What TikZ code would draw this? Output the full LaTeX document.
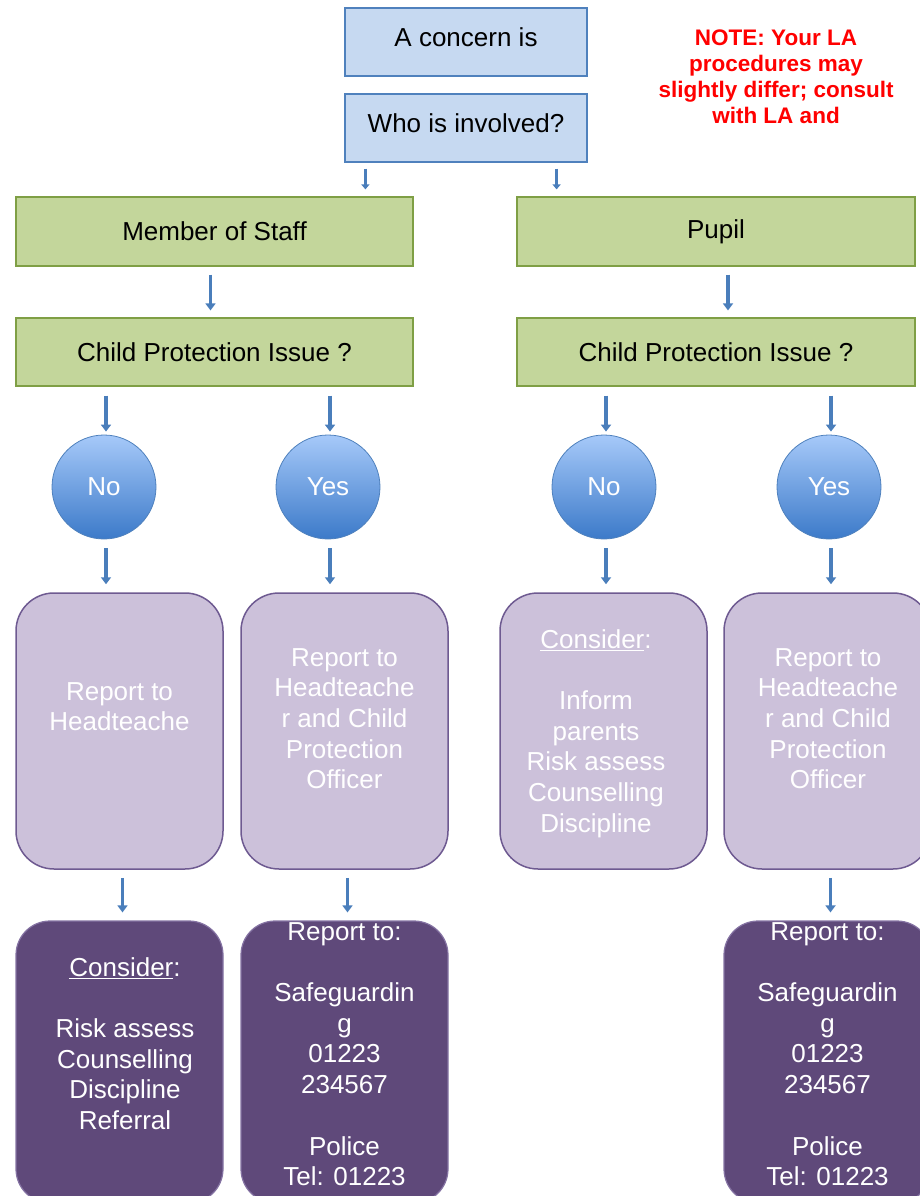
\documentclass[tikz,border=0pt]{standalone}
\usepackage{fontspec}
\setmainfont{Liberation Sans}
\usetikzlibrary{positioning,arrows.meta,calc}

\definecolor{paleblue}{HTML}{C6D9F1}
\definecolor{edgeblue}{HTML}{4F81BD}
\definecolor{palegreen}{HTML}{C3D69B}
\definecolor{edgegreen}{HTML}{7F9F45}
\definecolor{ballhi}{HTML}{A6C9F9}
\definecolor{balllo}{HTML}{3C7AC9}
\definecolor{palepurple}{HTML}{CCC1DA}
\definecolor{edgepurple}{HTML}{6E5A91}
\definecolor{deeppurple}{HTML}{5F497A}
\definecolor{deepedge}{HTML}{8573A3}
\definecolor{arrowblue}{HTML}{4A7EBB}

\tikzset{
	topbox/.style={draw=edgeblue, line width=1.2pt, fill=paleblue,
		minimum width=242pt, minimum height=68pt, inner sep=0pt,
		text depth=10pt, font=\fontsize{26}{30}\selectfont},
	whobox/.style={draw=edgegreen, line width=1.2pt, fill=palegreen,
		minimum width=397pt, minimum height=69pt, inner sep=0pt,
		font=\fontsize{26}{30}\selectfont},
	answer/.style={circle, draw=edgeblue, line width=0.8pt,
		top color=ballhi, bottom color=balllo, minimum size=104pt,
		inner sep=0pt, text=white, font=\fontsize{26}{30}\selectfont},
	actbox/.style={draw=edgepurple, line width=1.5pt, fill=palepurple,
		rounded corners=38pt, minimum width=207pt, minimum height=276pt,
		inner sep=0pt},
	callbox/.style={draw=deepedge, line width=1.2pt, fill=deeppurple,
		rounded corners=34pt, minimum width=207pt, minimum height=282pt,
		inner sep=0pt},
	boxtext/.style={anchor=north, inner sep=0pt, align=center, text=white,
		font=\fontsize{26}{30.7}\selectfont},
	flow/.style={draw=arrowblue, line width=3.5pt,
		-{Triangle[width=10pt,length=7pt]},
		shorten <=8pt, shorten >=8pt},
	flowsmall/.style={flow, line width=3pt,
		-{Triangle[width=8pt,length=5pt]}},
}

\begin{document}
\begin{tikzpicture}[x=1pt, y=-1pt]

	\useasboundingbox (0,0) rectangle (920,1196);
	\clip (0,0) rectangle (920,1196);

	\def\xL{214.5}
	\def\xR{716}
	\def\yAns{487}
	\def\yAct{731}
	\def\yCall{1062}

	% top
	\node[topbox] (concern) at (466, 42) {A concern is};
	\node[topbox] (who) at (466, 128) {Who is involved?};

	\node[anchor=north, inner sep=0pt, align=center, text=red,
		font=\bfseries\fontsize{22.5}{25.7}\selectfont] (note) at (776, 30)
		{NOTE: Your LA\\procedures may\\slightly differ; consult\\with LA and};

	% who
	\node[whobox] (staff) at (\xL, 231.5) {Member of Staff};
	\node[whobox, minimum width=398pt] (pupil) at (\xR, 231.5) {Pupil};

	\node[whobox, minimum height=68pt] (cpstaff) at (\xL, 352) {Child Protection Issue ?};
	\node[whobox, minimum height=68pt, minimum width=398pt] (cppupil) at (\xR, 352) {Child Protection Issue ?};

	% yes / no
	\foreach \n/\x/\t in {no1/104/No, yes1/328/Yes, no2/604/No, yes2/829/Yes}{
		\node[answer] (\n) at (\x, \yAns) {\t};
	}

	% what to do
	\node[actbox] (act1) at (119.5, \yAct) {};
	\node[actbox] (act2) at (344.5, \yAct) {};
	\node[actbox] (act3) at (603.5, \yAct) {};
	\node[actbox] (act4) at (827.5, \yAct) {};

	\node[boxtext] (act1txt) at (119.5, 682) {Report to\\Headteache};
	\node[boxtext] (act2txt) at (344.5, 648)
		{Report to\\Headteache\\r and Child\\Protection\\Officer};
	\node[boxtext] (act3txt) at (596, 629)
		{\underline{Consider}:\\~\\Inform\\parents\\Risk assess\\Counselling\\Discipline};
	\node[boxtext] (act4txt) at (828, 648)
		{Report to\\Headteache\\r and Child\\Protection\\Officer};

	% who to tell
	\node[callbox] (call1) at (119.5, \yCall) {};
	\node[callbox] (call2) at (344.5, \yCall) {};
	\node[callbox] (call3) at (827.5, \yCall) {};

	\node[boxtext] (call1txt) at (125, 957)
		{\underline{Consider}:\\~\\Risk assess\\Counselling\\Discipline\\Referral};
	\node[boxtext] (call2txt) at (344.5, 922)
		{Report to:\\~\\Safeguardin\\g\\01223\\234567\\~\\Police\\Tel: 01223};
	\node[boxtext] (call3txt) at (827.5, 922)
		{Report to:\\~\\Safeguardin\\g\\01223\\234567\\~\\Police\\Tel: 01223};

	% arrows
	\draw[flowsmall, shorten <=6pt, shorten >=7pt]
		([xshift=21pt]who.south west) -- ([xshift=21pt]who.south west |- staff.north);
	\draw[flowsmall, shorten <=6pt, shorten >=7pt]
		([xshift=-31pt]who.south east) -- ([xshift=-31pt]who.south east |- pupil.north);

	\draw[flow, shorten >=7pt] ([xshift=-4pt]staff.south) -- ([xshift=-4pt]cpstaff.north);
	\draw[flow, shorten >=7pt] ([xshift=12pt]pupil.south) -- ([xshift=12pt]cppupil.north);

	\foreach \n/\c in {no1/cpstaff, yes1/cpstaff, no2/cppupil, yes2/cppupil}{
		\draw[flow, shorten <=9pt, shorten >=3pt]
			([xshift=2pt]\n.north |- \c.south) -- ([xshift=2pt]\n.north);
	}
	\foreach \n/\a in {no1/act1, yes1/act2, no2/act3, yes2/act4}{
		\draw[flow, shorten <=9pt]
			([xshift=2pt]\n.south) -- ([xshift=2pt]\n.south |- \a.north);
	}
	\foreach \a/\c in {act1/call1, act2/call2, act4/call3}{
		\draw[flow] ([xshift=3pt]\a.south) -- ([xshift=3pt]\c.north);
	}

\end{tikzpicture}
\end{document}
